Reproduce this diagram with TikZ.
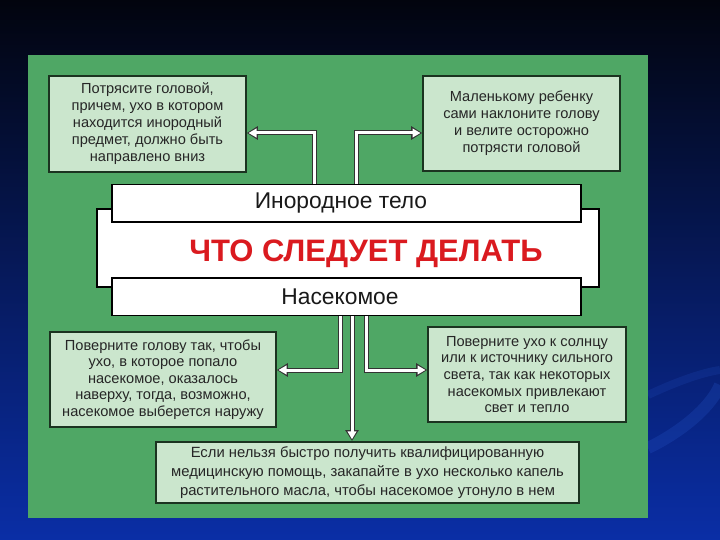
\documentclass[tikz,border=0pt]{standalone}
\usepackage{fontspec}
\setmainfont{Liberation Sans}
\usetikzlibrary{arrows.meta}
\definecolor{panel}{HTML}{4FA765}
\definecolor{boxfill}{HTML}{CBE6CD}
\definecolor{boxline}{HTML}{1B3320}
\definecolor{titlered}{HTML}{DA1A1F}
\definecolor{bgtop}{HTML}{02040E}
\definecolor{bgmid}{HTML}{06195A}
\definecolor{bgbot}{HTML}{0A2EA6}
\definecolor{swirl}{HTML}{2452C4}
\pgfdeclarelayer{bg}
\pgfsetlayers{bg,main}
\begin{document}
\begin{tikzpicture}[x=1pt,y=-1pt,
  infobox/.style={draw=boxline, line width=1.6pt, fill=boxfill, inner sep=0pt,
    align=center, text=black!85, font=\fontsize{14.6}{17}\selectfont},
  barbox/.style={draw=black, line width=1.6pt, fill=white, inner sep=0pt},
  bartext/.style={font=\fontsize{22.8}{24}\selectfont, text=black!90},
  conn/.style={draw=black!80, line width=5pt, line join=miter,
    -{Triangle[width=13pt,length=11pt]},
    postaction={draw=white, line width=3pt, -{Triangle[width=8.6pt,length=8pt]}, shorten >=1.7pt}}
]
\useasboundingbox (0,0) rectangle (720,540);
\begin{pgfonlayer}{bg}
\shade[top color=bgtop, middle color=bgmid, bottom color=bgbot] (0,0) rectangle (720,540);
\draw[swirl, line width=12pt, opacity=0.28] (648,448) .. controls (685,430) and (712,405) .. (720,385);
\draw[swirl, line width=8pt, opacity=0.2] (648,395) .. controls (680,380) and (705,372) .. (720,370);
\fill[panel] (28,55) rectangle (648,518);
\end{pgfonlayer}

% info boxes
\node[infobox, minimum width=197pt, minimum height=96pt] (tl) at (147.5,124)
  {Потрясите головой,\\причем, ухо в котором\\находится инородный\\предмет, должно быть\\направлено вниз};
\node[infobox, minimum width=197pt, minimum height=95pt] (tr) at (521.5,123.5)
  {Маленькому ребенку\\сами наклоните голову\\и велите осторожно\\потрясти головой};
\node[infobox, minimum width=226pt, minimum height=95pt, font=\fontsize{14.6}{16.5}\selectfont] (bl) at (163,379.5)
  {Поверните голову так, чтобы\\ухо, в которое попало\\насекомое, оказалось\\наверху, тогда, возможно,\\насекомое выберется наружу};
\node[infobox, minimum width=198pt, minimum height=95pt, font=\fontsize{14.6}{16.7}\selectfont] (br) at (527,374.5)
  {Поверните ухо к солнцу\\или к источнику сильного\\света, так как некоторых\\насекомых привлекают\\свет и тепло};
\node[infobox, minimum width=423pt, minimum height=61pt, line width=2pt, font=\fontsize{14.8}{19}\selectfont] (bot) at (367.5,472.5)
  {Если нельзя быстро получить квалифицированную\\медицинскую помощь, закапайте в ухо несколько капель\\растительного масла, чтобы насекомое утонуло в нем};

% central block
\node[barbox, line width=2pt, minimum width=502.5pt, minimum height=78pt] (mid) at (347.75,248) {};
\node[barbox, minimum width=469pt, minimum height=37.5pt] (bar1) at (346.5,203.25) {};
\node[barbox, minimum width=469pt, minimum height=37.5pt] (bar2) at (346.5,296.75) {};
\node[bartext] (t1) at ([xshift=-5.5pt]bar1.center) {Инородное тело};
\node[bartext] (t2) at ([xshift=-6.5pt]bar2.center) {Насекомое};
\node[font=\fontsize{31}{31}\bfseries\selectfont, text=titlered] (title) at (366,254) {ЧТО СЛЕДУЕТ ДЕЛАТЬ};

% connectors
\coordinate (xa) at (314,0);
\coordinate (xb) at (356,0);
\coordinate (xc) at (340,0);
\coordinate (xd) at (352,0);
\coordinate (xe) at (366,0);
\begin{pgfonlayer}{bg}
\draw[conn] (bar1.north -| xa) |- ([yshift=-9pt]tl.east);
\draw[conn] (bar1.north -| xb) |- ([yshift=-9.5pt]tr.west);
\draw[conn] (bar2.south -| xc) |- ([yshift=9.5pt]bl.east);
\draw[conn] (bar2.south -| xe) |- ([yshift=4.5pt]br.west);
\draw[conn] (bar2.south -| xd) -- (bot.north -| xd);
\end{pgfonlayer}
\end{tikzpicture}
\end{document}
